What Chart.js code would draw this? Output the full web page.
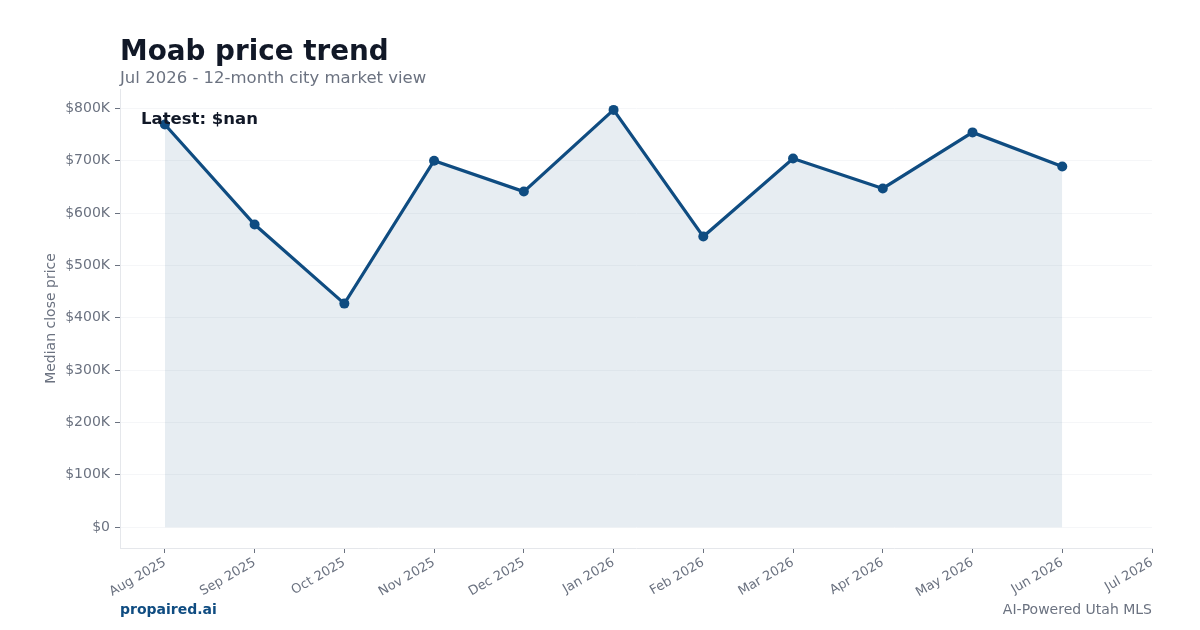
<!DOCTYPE html>
<html>
<head>
<meta charset="utf-8">
<script src="https://cdn.jsdelivr.net/npm/chart.js@4.4.1/dist/chart.umd.min.js"></script>
<style>
  html, body { margin: 0; padding: 0; background: #fff; }
  #wrap { width: 1200px; height: 630px; position: relative; }
</style>
</head>
<body>
<div id="wrap"><canvas id="price-chart" width="1200" height="630"></canvas></div>
<script>
// Chart data
const months = ['Aug 2025', 'Sep 2025', 'Oct 2025', 'Nov 2025', 'Dec 2025', 'Jan 2026',
                'Feb 2026', 'Mar 2026', 'Apr 2026', 'May 2026', 'Jun 2026', 'Jul 2026'];
const medianPrices = [769000, 578000, 427000, 700000, 641000, 797000,
                      555000, 704000, 647000, 754000, 689000, null];
const yTicks = [0, 100000, 200000, 300000, 400000, 500000, 600000, 700000, 800000];

const titleText = 'Moab price trend';
const subtitleText = 'Jul 2026 - 12-month city market view';
const latestText = 'Latest: $nan';
const brandText = 'propaired.ai';
const footerText = 'AI-Powered Utah MLS';

const FONT = '"DejaVu Sans", sans-serif';
const lineColor = '#0f4c81';
const gray = '#6b7280';

// Draw the header, footer and the "Latest" note
const textPlugin = {
    id: 'pageText',
    afterDraw(chart) {
        const ctx = chart.ctx;
        const area = chart.chartArea;
        ctx.save();
        ctx.textBaseline = 'alphabetic';
        ctx.textAlign = 'left';

        ctx.fillStyle = '#111827';
        ctx.font = 'bold 27.8px ' + FONT;
        ctx.fillText(titleText, 120, 60);

        ctx.fillStyle = gray;
        ctx.font = '16.5px ' + FONT;
        ctx.fillText(subtitleText, 120, 83);

        ctx.fillStyle = '#111827';
        ctx.font = 'bold 16.5px ' + FONT;
        ctx.textBaseline = 'top';
        ctx.fillText(latestText, area.left + 21, area.top + 22);

        ctx.textBaseline = 'alphabetic';
        ctx.fillStyle = lineColor;
        ctx.font = 'bold 14px ' + FONT;
        ctx.fillText(brandText, 120, 614);

        ctx.fillStyle = gray;
        ctx.font = '14px ' + FONT;
        ctx.textAlign = 'right';
        ctx.fillText(footerText, 1152, 614);
        ctx.restore();
    }
};

const ctx = document.getElementById('price-chart').getContext('2d');
new Chart(ctx, {
    type: 'line',
    data: {
        datasets: [{
            label: 'Median close price',
            data: medianPrices.map((v, i) => ({ x: i, y: v })),
            borderColor: lineColor,
            backgroundColor: 'rgba(15, 76, 129, 0.1)',
            borderWidth: 3.2,
            pointRadius: 5,
            pointBackgroundColor: lineColor,
            pointBorderColor: lineColor,
            pointBorderWidth: 0,
            fill: 'origin',
            tension: 0
        }]
    },
    options: {
        responsive: false,
        animation: false,
        layout: { padding: { top: 89, right: 48, left: 0, bottom: 0 } },
        plugins: {
            legend: { display: false },
            tooltip: { enabled: false }
        },
        scales: {
            x: {
                type: 'linear',
                min: -0.5,
                max: 11,
                afterBuildTicks: axis => { axis.ticks = months.map((m, i) => ({ value: i })); },
                afterFit: axis => { axis.height = 82; },
                ticks: {
                    autoSkip: false,
                    minRotation: 30,
                    maxRotation: 30,
                    color: gray,
                    padding: 2,
                    font: { family: FONT, size: 13 },
                    callback: value => months[value]
                },
                grid: { drawOnChartArea: false, tickColor: gray, tickLength: 5 },
                border: { color: '#e5e7eb', width: 1 }
            },
            y: {
                min: -39850,
                max: 836900,
                afterBuildTicks: axis => { axis.ticks = yTicks.map(v => ({ value: v })); },
                afterFit: axis => { axis.width = 120; },
                ticks: {
                    color: gray,
                    padding: 5,
                    font: { family: FONT, size: 14 },
                    callback: value => value === 0 ? '$0' : '$' + (value / 1000) + 'K'
                },
                title: {
                    display: true,
                    text: 'Median close price',
                    color: gray,
                    font: { family: FONT, size: 14 },
                    padding: { top: 43 }
                },
                grid: { color: '#f5f6f8', tickColor: gray, tickLength: 5 },
                border: { color: '#e5e7eb', width: 1 }
            }
        }
    },
    plugins: [textPlugin]
});
</script>
</body>
</html>
